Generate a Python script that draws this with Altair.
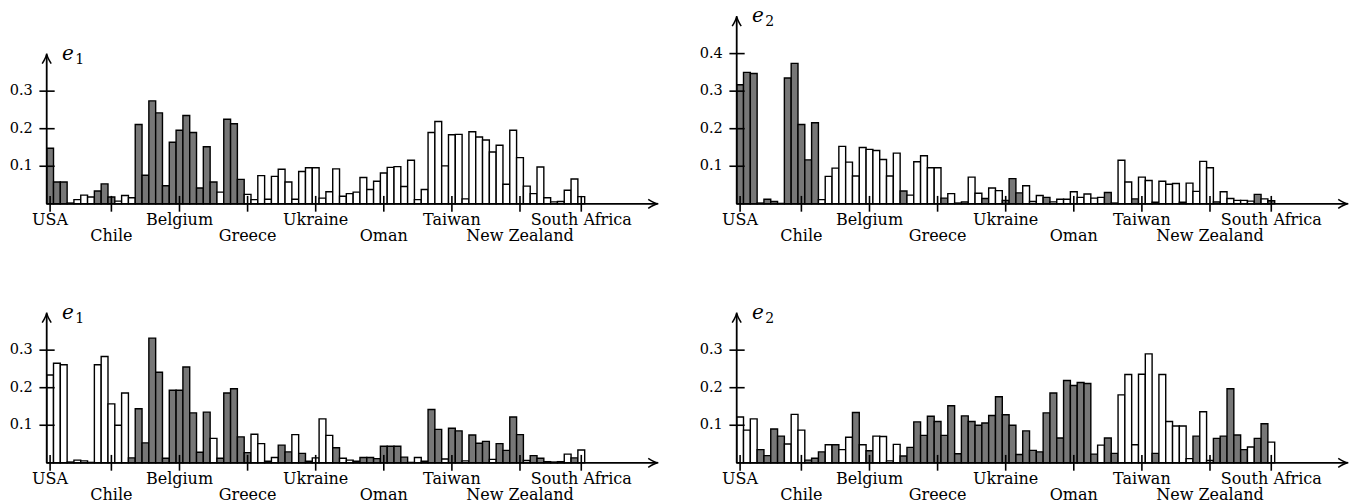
import altair as alt
import pandas as pd

# ---------------- data ----------------
TICK_LABELS = ["USA", "Chile", "Belgium", "Greece", "Ukraine", "Oman",
               "Taiwan", "New Zealand", "South Africa"]
TICK_INDEX = [0, 9, 19, 29, 39, 49, 59, 69, 78]
TICK_ROW = [0, 1, 0, 1, 0, 1, 0, 1, 0]

# top-left  (e1)
A_VALUES = [0.148, 0.058, 0.058, 0.002, 0.011, 0.023, 0.018, 0.034, 0.053, 0.018,
            0.007, 0.022, 0.016, 0.211, 0.076, 0.274, 0.242, 0.048, 0.164, 0.196,
            0.235, 0.190, 0.042, 0.152, 0.058, 0.031, 0.225, 0.213, 0.065, 0.025,
            0.011, 0.075, 0.012, 0.073, 0.092, 0.058, 0.012, 0.086, 0.096, 0.096,
            0.015, 0.032, 0.093, 0.020, 0.027, 0.031, 0.070, 0.038, 0.060, 0.082,
            0.097, 0.099, 0.046, 0.116, 0.011, 0.038, 0.190, 0.219, 0.101, 0.184,
            0.185, 0.013, 0.192, 0.178, 0.170, 0.138, 0.156, 0.052, 0.196, 0.123,
            0.047, 0.027, 0.098, 0.016, 0.005, 0.006, 0.036, 0.066, 0.019]
A_SHADED = [1, 1, 1, 0, 0, 0, 0, 1, 1, 1,
            0, 0, 0, 1, 1, 1, 1, 1, 1, 1,
            1, 1, 1, 1, 1, 0, 1, 1, 1, 0,
            0, 0, 0, 0, 0, 0, 0, 0, 0, 0,
            0, 0, 0, 0, 0, 0, 0, 0, 0, 0,
            0, 0, 0, 0, 0, 0, 0, 0, 0, 0,
            0, 0, 0, 0, 0, 0, 0, 0, 0, 0,
            0, 0, 0, 0, 0, 0, 0, 0, 0]

# top-right (e2)
B_VALUES = [0.317, 0.350, 0.347, 0.002, 0.012, 0.006, 0.001, 0.335, 0.374, 0.211,
            0.117, 0.216, 0.011, 0.073, 0.095, 0.153, 0.111, 0.074, 0.150, 0.145,
            0.142, 0.118, 0.074, 0.135, 0.034, 0.023, 0.112, 0.128, 0.096, 0.096,
            0.015, 0.027, 0.002, 0.005, 0.071, 0.028, 0.014, 0.042, 0.035, 0.009,
            0.067, 0.029, 0.048, 0.006, 0.022, 0.017, 0.005, 0.012, 0.012, 0.032,
            0.017, 0.026, 0.015, 0.017, 0.030, 0.002, 0.116, 0.058, 0.013, 0.071,
            0.062, 0.004, 0.060, 0.052, 0.054, 0.004, 0.055, 0.033, 0.113, 0.096,
            0.005, 0.032, 0.014, 0.009, 0.009, 0.007, 0.025, 0.013, 0.008]
B_SHADED = [1, 1, 1, 0, 1, 1, 0, 1, 1, 1,
            1, 1, 0, 0, 0, 0, 0, 0, 0, 0,
            0, 0, 0, 0, 1, 0, 0, 0, 0, 0,
            1, 0, 0, 1, 0, 0, 1, 0, 0, 1,
            1, 1, 0, 0, 0, 1, 0, 0, 0, 0,
            0, 0, 0, 0, 1, 0, 0, 0, 1, 0,
            0, 0, 0, 0, 0, 0, 0, 0, 0, 0,
            1, 0, 0, 0, 0, 0, 1, 0, 1]

# bottom-left (e1)
C_VALUES = [0.234, 0.265, 0.261, 0.002, 0.007, 0.005, 0.001, 0.261, 0.283, 0.157,
            0.100, 0.186, 0.013, 0.144, 0.053, 0.332, 0.241, 0.012, 0.193, 0.193,
            0.255, 0.133, 0.028, 0.135, 0.065, 0.012, 0.186, 0.197, 0.069, 0.027,
            0.076, 0.051, 0.004, 0.014, 0.047, 0.029, 0.075, 0.025, 0.004, 0.013,
            0.117, 0.073, 0.040, 0.012, 0.007, 0.004, 0.014, 0.014, 0.011, 0.044,
            0.044, 0.044, 0.015, 0.001, 0.014, 0.004, 0.142, 0.089, 0.010, 0.092,
            0.085, 0.005, 0.074, 0.052, 0.057, 0.009, 0.051, 0.033, 0.122, 0.075,
            0.006, 0.019, 0.012, 0.003, 0.002, 0.003, 0.023, 0.013, 0.034]
C_SHADED = [0, 0, 0, 0, 0, 0, 0, 0, 0, 0,
            0, 0, 1, 1, 1, 1, 1, 1, 1, 1,
            1, 1, 1, 1, 0, 1, 1, 1, 1, 1,
            0, 0, 0, 0, 1, 1, 0, 1, 1, 0,
            0, 0, 1, 0, 0, 1, 1, 1, 1, 1,
            1, 1, 1, 0, 0, 1, 1, 1, 0, 1,
            1, 0, 1, 1, 1, 0, 1, 1, 1, 1,
            0, 1, 1, 1, 0, 0, 0, 1, 0]

# bottom-right (e2)
D_VALUES = [0.122, 0.087, 0.117, 0.035, 0.019, 0.090, 0.071, 0.050, 0.129, 0.087,
            0.007, 0.012, 0.029, 0.048, 0.048, 0.035, 0.068, 0.134, 0.048, 0.032,
            0.071, 0.070, 0.005, 0.049, 0.018, 0.041, 0.109, 0.073, 0.124, 0.110,
            0.073, 0.152, 0.024, 0.125, 0.110, 0.100, 0.106, 0.126, 0.176, 0.128,
            0.100, 0.022, 0.085, 0.033, 0.029, 0.133, 0.186, 0.066, 0.219, 0.206,
            0.214, 0.211, 0.023, 0.047, 0.066, 0.025, 0.181, 0.235, 0.048, 0.236,
            0.290, 0.025, 0.235, 0.110, 0.098, 0.098, 0.011, 0.071, 0.136, 0.006,
            0.065, 0.071, 0.197, 0.074, 0.035, 0.042, 0.065, 0.104, 0.055]
D_SHADED = [0, 0, 0, 1, 1, 1, 1, 0, 0, 0,
            1, 1, 1, 0, 1, 0, 0, 1, 0, 1,
            0, 0, 0, 0, 1, 1, 1, 1, 1, 1,
            1, 1, 1, 1, 1, 1, 1, 1, 1, 1,
            1, 1, 1, 1, 1, 1, 1, 1, 1, 1,
            1, 1, 1, 0, 1, 1, 0, 0, 0, 0,
            0, 1, 0, 0, 0, 0, 0, 1, 0, 0,
            1, 1, 1, 1, 1, 0, 1, 1, 0]

PANELS = [
    (A_VALUES, A_SHADED, "1", [0.1, 0.2, 0.3], 0.4),
    (B_VALUES, B_SHADED, "2", [0.1, 0.2, 0.3, 0.4], 0.5),
    (C_VALUES, C_SHADED, "1", [0.1, 0.2, 0.3], 0.4),
    (D_VALUES, D_SHADED, "2", [0.1, 0.2, 0.3], 0.4),
]

# ---------------- style ----------------
GRAY = "#777777"
FONT = "'DejaVu Serif', 'Liberation Serif', serif"
W, H = 655, 239
X_END = 89.3
ARROW = "M -1 -0.45 Q -0.4 -0.06 0 0 Q -0.4 0.06 -1 0.45"


def X(f):
    return alt.X(f, type="quantitative",
                 scale=alt.Scale(domain=[-6.183, 90.0], nice=False, zero=False),
                 axis=None)


def Y(f):
    return alt.Y(f, type="quantitative",
                 scale=alt.Scale(domain=[-0.1164, 0.5201], nice=False, zero=False),
                 axis=None)


def panel(values, shaded, sub, yticks, ytop):
    df = pd.DataFrame({"i": list(range(len(values))), "v": values,
                       "s": ["shaded" if s else "plain" for s in shaded]})
    df["x0"] = df["i"] - 0.5
    df["x1"] = df["i"] + 0.5
    bars = alt.Chart(df).mark_bar(stroke="black", strokeWidth=1.4).encode(
        x=X("x0"), x2="x1:Q", y=Y("v"), y2=alt.datum(0),
        fill=alt.Fill("s:N", scale=alt.Scale(domain=["plain", "shaded"],
                                             range=["white", GRAY]), legend=None),
    )

    axes_df = pd.DataFrame({"xa": [-0.5, -0.5], "xb": [X_END - 0.2, -0.5],
                            "ya": [0.0, 0.0], "yb": [0.0, ytop - 0.004]})
    axes = alt.Chart(axes_df).mark_rule(color="black", strokeWidth=1.8).encode(
        x=X("xa"), x2="xb:Q", y=Y("ya"), y2="yb:Q")

    arr_df = pd.DataFrame({"x": [X_END, -0.5], "y": [0.0, ytop], "ang": [0, 270]})
    arrows = alt.Chart(arr_df).mark_point(
        shape=ARROW, size=400, filled=False, stroke="black", strokeWidth=1.5,
        opacity=1).encode(x=X("x"), y=Y("y"), angle=alt.Angle("ang:Q", scale=None))

    yt = pd.DataFrame({"t": yticks, "lab": [f"{t:.1f}" for t in yticks]})
    yt["a"] = -1.57
    yt["b"] = 0.67
    yt["lx"] = -2.55
    ytick = alt.Chart(yt).mark_rule(color="black", strokeWidth=1.6).encode(
        x=X("a"), x2="b:Q", y=Y("t"))
    ylab = alt.Chart(yt).mark_text(align="right", baseline="middle", font=FONT,
                                   fontSize=14.5, color="black").encode(
        x=X("lx"), y=Y("t"), text="lab:N")

    xt = pd.DataFrame({"p": TICK_INDEX, "lab": TICK_LABELS, "row": TICK_ROW})
    xt["ta"] = -0.021
    xt["tb"] = 0.021
    xt["ly"] = [-0.0575 if r == 0 else -0.0978 for r in TICK_ROW]
    xtick = alt.Chart(xt).mark_rule(color="black", strokeWidth=1.6).encode(
        x=X("p"), y=Y("ta"), y2="tb:Q")
    xlab = alt.Chart(xt).mark_text(align="center", baseline="alphabetic", font=FONT,
                                   fontSize=16, color="black").encode(
        x=X("p"), y=Y("ly"), text="lab:N")

    t_df = pd.DataFrame({"x": [1.75], "y": [ytop - 0.016], "t": ["e"]})
    title = alt.Chart(t_df).mark_text(align="left", baseline="alphabetic", font=FONT,
                                      fontStyle="italic", fontSize=20,
                                      color="black").encode(
        x=X("x"), y=Y("y"), text="t:N")
    s_df = pd.DataFrame({"x": [3.7], "y": [ytop - 0.027], "t": [sub]})
    subt = alt.Chart(s_df).mark_text(align="left", baseline="alphabetic", font=FONT,
                                     fontSize=14, color="black").encode(
        x=X("x"), y=Y("y"), text="t:N")

    return alt.layer(bars, axes, arrows, ytick, ylab, xtick, xlab, title, subt).properties(
        width=W, height=H)


charts = [panel(*p) for p in PANELS]
chart = alt.concat(*charts, columns=2, spacing={"row": 20, "column": 35},
                   bounds="flush").properties(
    padding={"top": -2.5, "left": 0, "right": 0, "bottom": 0}
).configure_view(stroke=None)

chart.save("out.html", embed_options={"renderer": "svg", "actions": False})
